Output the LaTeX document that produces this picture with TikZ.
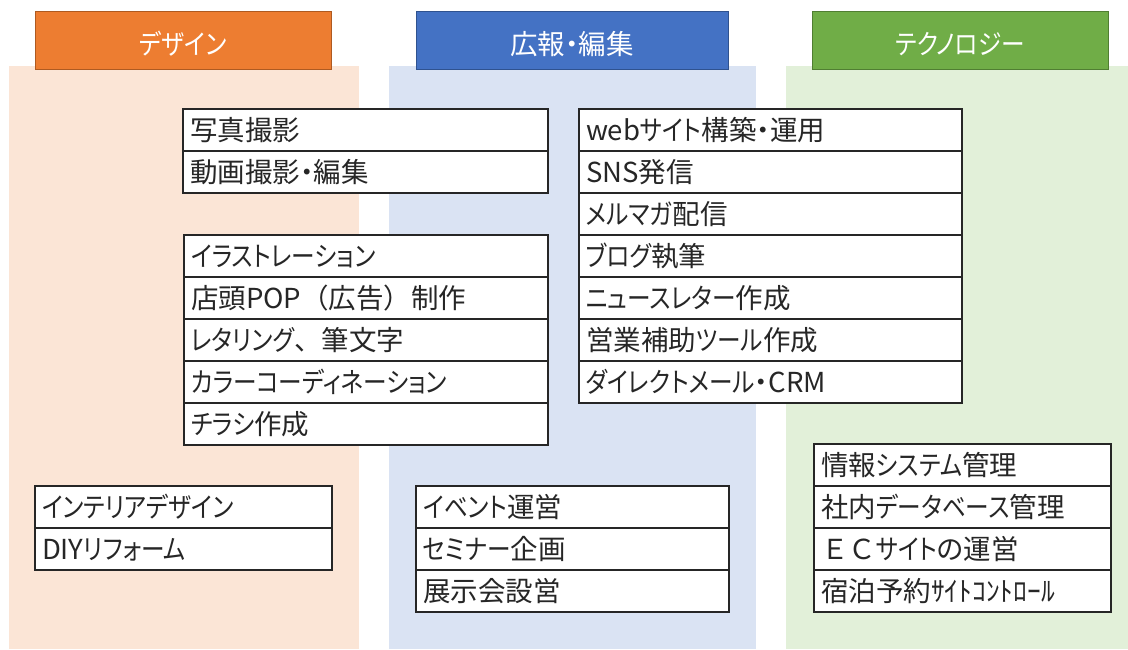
\documentclass[tikz,border=0pt]{standalone}
\usepackage{fontspec}
\setmainfont{Noto Sans CJK JP}[RawFeature=+palt]
\newfontfamily\kanafont{Noto Sans CJK JP}[RawFeature=+palt, FakeStretch=0.86]
\newfontfamily\fwfont{Noto Sans CJK JP}
\newcommand\kanarun[1]{{\kanafont #1}}
\definecolor{orH}{HTML}{ED7D31}
\definecolor{orB}{HTML}{AE5A21}
\definecolor{orP}{HTML}{FBE5D6}
\definecolor{blH}{HTML}{4472C4}
\definecolor{blB}{HTML}{2F528F}
\definecolor{blP}{HTML}{DAE3F3}
\definecolor{grH}{HTML}{70AD47}
\definecolor{grB}{HTML}{507E32}
\definecolor{grP}{HTML}{E2F0D9}
\definecolor{ink}{HTML}{262626}
\begin{document}
\begin{tikzpicture}[x=1pt,y=-1pt,
  hdr/.style={line width=1pt, text=white, font=\fontsize{27.5}{30}\selectfont,
    anchor=north west, minimum height=58pt, inner sep=0pt, outer sep=0pt,
    text height=32pt, text depth=3pt},
  item/.style={draw=ink, line width=2pt, fill=white, anchor=north west,
    minimum height=42pt, inner xsep=7pt, inner ysep=0pt, outer sep=0pt, align=left,
    text height=25pt, text depth=4pt,
    text=ink, text width=#1pt, font=\fontsize{27.5}{30}\selectfont}]
\useasboundingbox (0,0) rectangle (1128,649);
% panels
\fill[orP] (9,66) rectangle (359,649);
\fill[blP] (389,66) rectangle (756,649);
\fill[grP] (786,66) rectangle (1128,649);
% headers
\node[hdr, fill=orH, draw=orB, minimum width=296pt] (h1) at (35,11) {\kanarun{デザイン}};
\node[hdr, fill=blH, draw=blB, minimum width=312pt] (h2) at (416,11) {広報・編集};
\node[hdr, fill=grH, draw=grB, minimum width=296pt] (h3) at (812,11) {\kanarun{テクノロジー}};
% design column
\node[item=351] (a1) at (183,109) {写真撮影};
\node[item=351] (a2) at (a1.south west) {動画撮影・編集};
\node[item=350] (b1) at (184,235) {\kanarun{イラストレーション}};
\node[item=350] (b2) at (b1.south west) {店頭POP{\fwfont （}広告{\fwfont ）}制作};
\node[item=350] (b3) at (b2.south west) {\kanarun{レタリング}{\fwfont 、}筆文字};
\node[item=350] (b4) at (b3.south west) {\kanarun{カラーコーディネーション}};
\node[item=350] (b5) at (b4.south west) {\kanarun{チラシ}作成};
\node[item=283] (e1) at (35,486) {\kanarun{インテリアデザイン}};
\node[item=283] (e2) at (e1.south west) {DIY\kanarun{リフォーム}};
% PR column
\node[item=369] (c1) at (579,109) {web\kanarun{サイト}構築・運用};
\node[item=369] (c2) at (c1.south west) {SNS発信};
\node[item=369] (c3) at (c2.south west) {\kanarun{メルマガ}配信};
\node[item=369] (c4) at (c3.south west) {\kanarun{ブログ}執筆};
\node[item=369] (c5) at (c4.south west) {\kanarun{ニュースレター}作成};
\node[item=369] (c6) at (c5.south west) {営業補助\kanarun{ツール}作成};
\node[item=369] (c7) at (c6.south west) {\kanarun{ダイレクトメール}・CRM};
\node[item=299] (f1) at (416,486) {\kanarun{イベント}運営};
\node[item=299] (f2) at (f1.south west) {\kanarun{セミナー}企画};
\node[item=299] (f3) at (f2.south west) {展示会設営};
% tech column
\node[item=283] (d1) at (814,444) {情報\kanarun{システム}管理};
\node[item=283] (d2) at (d1.south west) {社内\kanarun{データベース}管理};
\node[item=283] (d3) at (d2.south west) {{\fwfont ＥＣ}\kanarun{サイト}の運営};
\node[item=283] (d4) at (d3.south west) {宿泊予約ｻｲﾄｺﾝﾄﾛｰﾙ};
\end{tikzpicture}
\end{document}
